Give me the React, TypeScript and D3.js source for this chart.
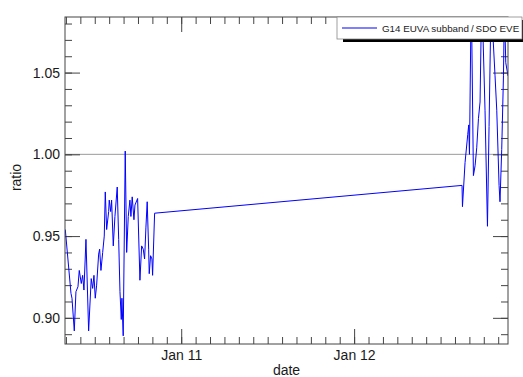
import React, { useEffect, useRef } from 'react';
import * as d3 from 'd3';

// hours since Jan 10 00:00 UTC
const timeHours = [
  7.91, 8.70, 8.84, 9.16, 9.39, 9.67, 9.85, 10.13, 10.32, 10.50,
  10.78, 11.15, 11.51, 11.71, 11.89, 12.07, 12.26, 12.54, 12.68, 12.86,
  13.10, 13.32, 13.46, 13.65, 13.93, 14.01, 14.21, 14.34, 14.57, 14.80,
  15.12, 15.32, 15.50, 15.68, 15.77, 15.95, 16.23, 16.43, 16.65, 16.88,
  17.02, 17.20, 17.44, 17.58, 17.95, 18.27, 18.51, 18.73, 18.92, 19.10,
  19.28, 19.48, 19.56, 19.75, 19.94, 20.03, 20.31,
  62.98, 63.04, 63.40, 63.77, 63.91, 64.01, 64.26, 64.56, 64.79, 65.02,
  65.26, 65.48, 65.72, 66.17, 66.51, 66.73, 67.03, 67.30, 67.56, 67.80,
  68.12, 68.25, 68.49, 68.73, 68.86, 69.05, 69.36
];

const ratioValues = [
  0.954, 0.915, 0.912, 0.892, 0.916, 0.919, 0.929, 0.921, 0.926, 0.917,
  0.948, 0.892, 0.924, 0.918, 0.926, 0.912, 0.920, 0.939, 0.942, 0.929,
  0.940, 0.950, 0.977, 0.954, 0.965, 0.972, 0.965, 0.972, 0.944, 0.962,
  0.980, 0.948, 0.916, 0.899, 0.912, 0.889, 1.002, 0.940, 0.962, 0.972,
  0.962, 0.974, 0.960, 0.969, 0.973, 0.923, 0.944, 0.942, 0.936, 0.955,
  0.971, 0.942, 0.927, 0.938, 0.936, 0.926, 0.964,
  0.981, 0.968, 0.995, 1.012, 1.018, 1.000, 1.100, 0.987, 0.993, 1.004,
  1.022, 1.032, 1.100, 1.027, 0.956, 1.017, 1.100, 1.070, 1.048, 1.027,
  0.981, 0.971, 1.003, 1.048, 1.090, 1.056, 1.048
];

const xDomainHours = [7.87, 69.36];
const yDomain = [0.884, 1.084];
const yTickLabels = ['0.90', '0.95', '1.00', '1.05'];
const xTickLabels = ['Jan 11', 'Jan 12'];
const seriesName = 'G14 EUVA subband\u2009/\u2009SDO EVE';

const START = Date.UTC(2013, 0, 10);
const toDate = (h: number) => new Date(START + h * 3600e3);

const width = 523;
const height = 377;
const margin = { top: 17, right: 15, bottom: 33, left: 65 };
const FONT = '"Liberation Sans", Arial, Helvetica, sans-serif';
const AXIS_COLOR = '#444';

const App = () => {
  const svgRef = useRef<SVGSVGElement>(null);

  useEffect(() => {
    const svg = d3.select(svgRef.current);
    svg.selectAll('*').remove();

    const innerWidth = width - margin.left - margin.right;
    const innerHeight = height - margin.top - margin.bottom;

    const x = d3.scaleUtc()
      .domain(xDomainHours.map(toDate))
      .range([0, innerWidth]);
    const y = d3.scaleLinear().domain(yDomain).range([innerHeight, 0]);

    const g = svg.append('g').attr('transform', `translate(${margin.left},${margin.top})`);

    svg.append('defs').append('clipPath').attr('id', 'plot-clip')
      .append('rect').attr('width', innerWidth).attr('height', innerHeight);

    // reference line at 1.00
    g.append('line')
      .attr('x1', 0).attr('x2', innerWidth)
      .attr('y1', y(1)).attr('y2', y(1))
      .attr('stroke', '#9a9a9a').attr('stroke-width', 1);

    const minorY = d3.range(0, 21).map(i => +(0.88 + i * 0.01).toFixed(2))
      .filter(v => v >= yDomain[0] && v <= yDomain[1]);
    const majorY = yTickLabels.map(Number);
    const minorX = d3.utcHour.every(2)!.range(toDate(xDomainHours[0]), toDate(xDomainHours[1]));
    const majorX = xTickLabels.map((_, i) => toDate(24 * (i + 1)));

    const styleAxis = (sel: any) => {
      sel.select('.domain').remove();
      sel.selectAll('line').attr('stroke', AXIS_COLOR);
      sel.selectAll('text')
        .style('font-family', FONT)
        .style('font-size', '14px')
        .attr('fill', '#1a1a1a');
    };

    // bottom
    g.append('g').attr('transform', `translate(0,${innerHeight})`)
      .call(d3.axisBottom(x).tickValues(minorX).tickSize(-7).tickFormat(() => ''))
      .call(styleAxis);
    g.append('g').attr('transform', `translate(0,${innerHeight})`)
      .call(d3.axisBottom(x).tickValues(majorX).tickSize(-15).tickPadding(6)
        .tickFormat((_, i) => xTickLabels[i]))
      .call(styleAxis);
    // top
    g.append('g')
      .call(d3.axisTop(x).tickValues(minorX).tickSize(-7).tickFormat(() => ''))
      .call(styleAxis);
    g.append('g')
      .call(d3.axisTop(x).tickValues(majorX).tickSize(-15).tickFormat(() => ''))
      .call(styleAxis);
    // left
    g.append('g')
      .call(d3.axisLeft(y).tickValues(minorY).tickSize(-7).tickFormat(() => ''))
      .call(styleAxis);
    g.append('g')
      .call(d3.axisLeft(y).tickValues(majorY).tickSize(-15).tickPadding(5)
        .tickFormat((_, i) => yTickLabels[i]))
      .call(styleAxis);
    // right
    g.append('g').attr('transform', `translate(${innerWidth},0)`)
      .call(d3.axisRight(y).tickValues(minorY).tickSize(-7).tickFormat(() => ''))
      .call(styleAxis);
    g.append('g').attr('transform', `translate(${innerWidth},0)`)
      .call(d3.axisRight(y).tickValues(majorY).tickSize(-15).tickFormat(() => ''))
      .call(styleAxis);

    // series
    const line = d3.line<number>()
      .x((_, i) => x(toDate(timeHours[i])))
      .y(d => y(d));
    g.append('path')
      .datum(ratioValues)
      .attr('clip-path', 'url(#plot-clip)')
      .attr('fill', 'none')
      .attr('stroke', '#0000ff')
      .attr('stroke-width', 1)
      .attr('stroke-linejoin', 'round')
      .attr('d', line);

    // frame
    g.append('rect')
      .attr('width', innerWidth).attr('height', innerHeight)
      .attr('fill', 'none').attr('stroke', AXIS_COLOR).attr('stroke-width', 1);

    // axis titles
    g.append('text')
      .attr('x', innerWidth / 2).attr('y', innerHeight + 31)
      .attr('text-anchor', 'middle')
      .style('font-family', FONT).style('font-size', '14px').attr('fill', '#1a1a1a')
      .text('date');
    g.append('text')
      .attr('transform', `translate(${-44},${innerHeight / 2 - 3}) rotate(-90)`)
      .attr('text-anchor', 'middle')
      .style('font-family', FONT).style('font-size', '14px').attr('fill', '#1a1a1a')
      .text('ratio');

    // legend
    const lg = svg.append('g').attr('transform', 'translate(337,17)');
    lg.append('rect').attr('x', 6).attr('y', 3).attr('width', 190).attr('height', 22).attr('fill', '#000');
    lg.append('rect').attr('x', 0).attr('y', 0).attr('width', 185).attr('height', 22)
      .attr('fill', '#fff').attr('stroke', '#888').attr('stroke-width', 0.8);
    lg.append('line').attr('x1', 5).attr('x2', 40).attr('y1', 11).attr('y2', 11)
      .attr('stroke', '#0000ff').attr('stroke-width', 1);
    lg.append('text').attr('x', 45).attr('y', 14.5)
      .style('font-family', FONT).style('font-size', '9.8px').attr('fill', '#1a1a1a')
      .text(seriesName);
  }, []);

  return (
    <svg
      ref={svgRef}
      width={width}
      height={height}
      style={{ position: 'absolute', left: 0, top: 0, background: '#fff' }}
    />
  );
};

export default App;
